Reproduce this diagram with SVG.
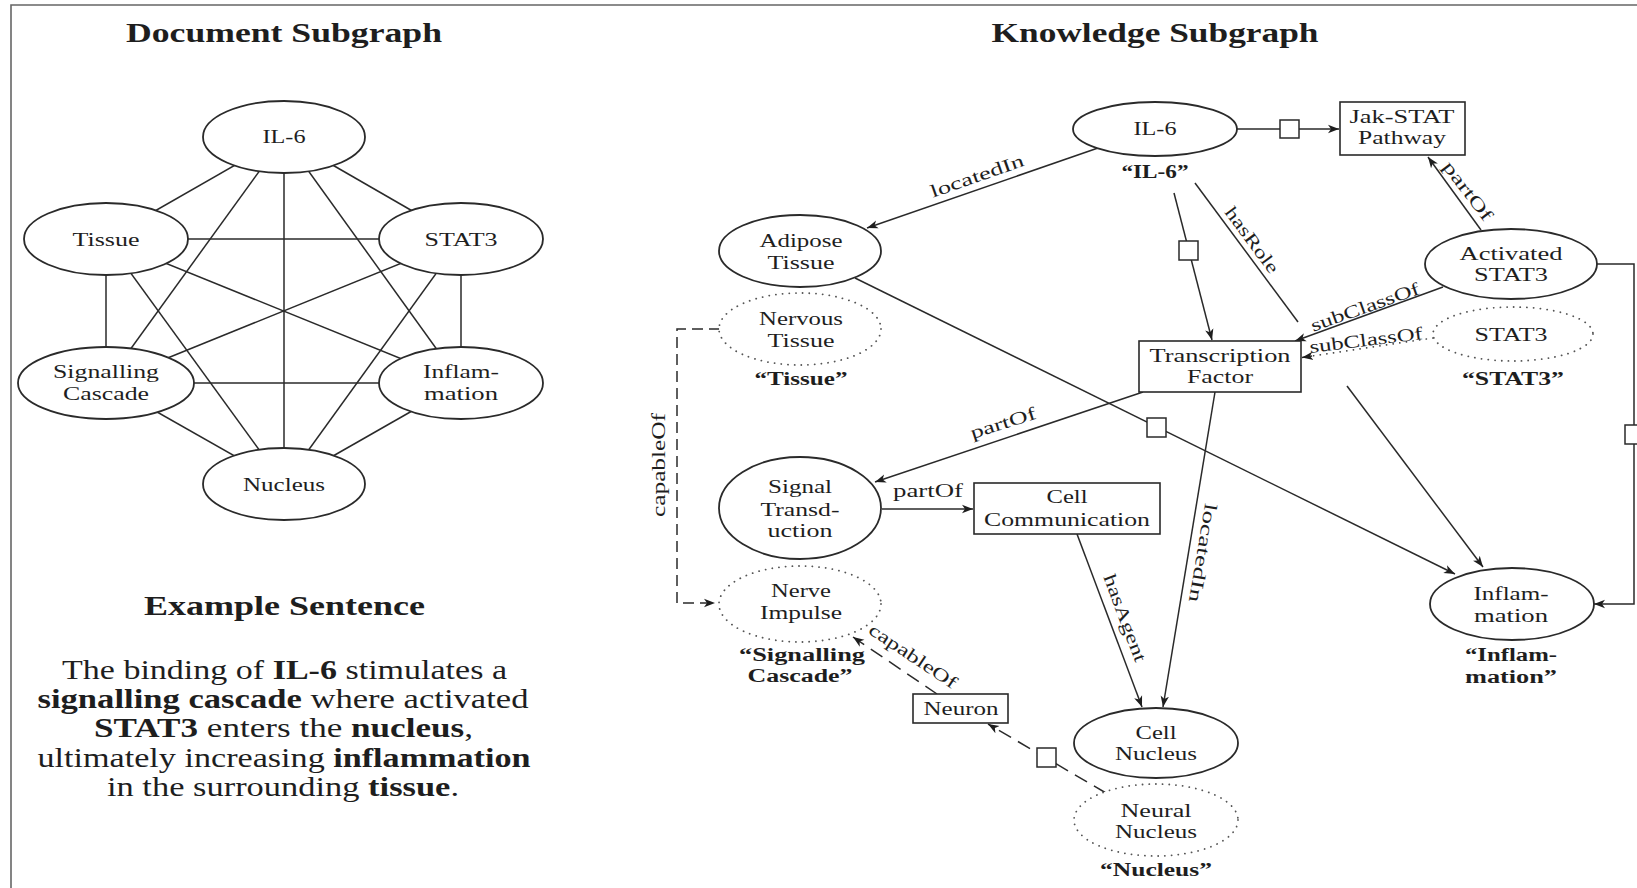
<svg xmlns="http://www.w3.org/2000/svg" width="1637" height="888" viewBox="0 0 1637 888">
<defs>
<style>
text{font-family:"Liberation Serif","DejaVu Serif",serif;fill:#1e1e1e;}
.n{font-size:18.5px;text-anchor:middle;}
.t{font-size:28px;font-weight:bold;text-anchor:middle;}
.s{font-size:27px;text-anchor:middle;}
.bd{font-weight:bold;}
.q{font-size:18.5px;font-weight:bold;text-anchor:middle;}
.l{font-size:18px;text-anchor:middle;dominant-baseline:central;}
.e{stroke:#2a2a2a;stroke-width:1.5;fill:none;}
.dash{stroke-dasharray:11 6;}
.dash2{stroke-dasharray:14 8;}
.dot{stroke:#444;stroke-width:1.7;fill:none;stroke-dasharray:0.1 6.6;stroke-linecap:round;}
.node{fill:#fff;stroke:#2a2a2a;stroke-width:1.8;}
.dnode{fill:#fff;stroke:#555;stroke-width:1.8;stroke-dasharray:0.1 6.6;stroke-linecap:round;}
.rect{fill:#fff;stroke:#2a2a2a;stroke-width:1.6;}
.sq{fill:#fff;stroke:#2a2a2a;stroke-width:1.5;}
.frame{stroke:#666;stroke-width:1.6;fill:none;}
</style>
<marker id="arr" markerWidth="12" markerHeight="10" refX="11" refY="5" orient="auto" markerUnits="userSpaceOnUse">
<path d="M0,0.8 L11,5 L0,9.2 L3,5 z" fill="#1e1e1e"/>
</marker>
</defs>
<rect x="0" y="0" width="1637" height="888" fill="#fff"/>
<path class="frame" d="M11,888 V5 H1637"/>

<!-- Titles -->
<text class="t" x="284" y="42" textLength="316" lengthAdjust="spacingAndGlyphs">Document Subgraph</text>
<text class="t" x="1155" y="42" textLength="327" lengthAdjust="spacingAndGlyphs">Knowledge Subgraph</text>

<!-- Document subgraph connectors -->
<g id="doc-edges" class="e">
<line x1="284" y1="137" x2="106" y2="239"/>
<line x1="284" y1="137" x2="461" y2="239"/>
<line x1="284" y1="137" x2="106" y2="383"/>
<line x1="284" y1="137" x2="461" y2="383"/>
<line x1="284" y1="137" x2="284" y2="484"/>
<line x1="106" y1="239" x2="461" y2="239"/>
<line x1="106" y1="239" x2="106" y2="383"/>
<line x1="106" y1="239" x2="461" y2="383"/>
<line x1="106" y1="239" x2="284" y2="484"/>
<line x1="461" y1="239" x2="106" y2="383"/>
<line x1="461" y1="239" x2="461" y2="383"/>
<line x1="461" y1="239" x2="284" y2="484"/>
<line x1="106" y1="383" x2="461" y2="383"/>
<line x1="106" y1="383" x2="284" y2="484"/>
<line x1="461" y1="383" x2="284" y2="484"/>
</g>

<g id="doc-il6"><ellipse class="node" cx="284" cy="137" rx="81" ry="36"/><text class="n" x="284" y="143" textLength="43" lengthAdjust="spacingAndGlyphs">IL-6</text></g>
<g id="doc-tissue"><ellipse class="node" cx="106" cy="239" rx="82" ry="36"/><text class="n" x="106" y="246" textLength="67" lengthAdjust="spacingAndGlyphs">Tissue</text></g>
<g id="doc-stat3"><ellipse class="node" cx="461" cy="239" rx="82" ry="36"/><text class="n" x="461" y="246" textLength="73" lengthAdjust="spacingAndGlyphs">STAT3</text></g>
<g id="doc-signalling"><ellipse class="node" cx="106" cy="383" rx="88" ry="36"/><text class="n" x="106" y="378" textLength="106" lengthAdjust="spacingAndGlyphs">Signalling</text><text class="n" x="106" y="400" textLength="86" lengthAdjust="spacingAndGlyphs">Cascade</text></g>
<g id="doc-inflammation"><ellipse class="node" cx="461" cy="383" rx="82" ry="36"/><text class="n" x="461" y="378" textLength="76" lengthAdjust="spacingAndGlyphs">Inflam-</text><text class="n" x="461" y="400" textLength="74" lengthAdjust="spacingAndGlyphs">mation</text></g>
<g id="doc-nucleus"><ellipse class="node" cx="284" cy="484" rx="81" ry="36"/><text class="n" x="284" y="491" textLength="82" lengthAdjust="spacingAndGlyphs">Nucleus</text></g>

<!-- Example sentence -->
<g id="example">
<text class="t" x="284.5" y="615" textLength="281" lengthAdjust="spacingAndGlyphs">Example Sentence</text>
<text class="s" x="284.5" y="679" textLength="445" lengthAdjust="spacingAndGlyphs">The binding of <tspan class="bd">IL-6</tspan> stimulates a</text>
<text class="s" x="283" y="708" textLength="491" lengthAdjust="spacingAndGlyphs"><tspan class="bd">signalling cascade</tspan> where activated</text>
<text class="s" x="283.5" y="737" textLength="379" lengthAdjust="spacingAndGlyphs"><tspan class="bd">STAT3</tspan> enters the <tspan class="bd">nucleus</tspan>,</text>
<text class="s" x="284" y="767" textLength="493" lengthAdjust="spacingAndGlyphs">ultimately increasing <tspan class="bd">inflammation</tspan></text>
<text class="s" x="283" y="796" textLength="352" lengthAdjust="spacingAndGlyphs">in the surrounding <tspan class="bd">tissue</tspan>.</text>
</g>

<!-- Knowledge subgraph connectors -->
<g id="kg-edges">
<line class="e" x1="1237" y1="129" x2="1339" y2="129" marker-end="url(#arr)"/>
<rect class="sq" x="1280" y="120" width="19" height="18"/>
<line class="e" x1="1098" y1="148" x2="867" y2="228" marker-end="url(#arr)"/>
<line class="e" x1="1174" y1="193" x2="1212" y2="340" marker-end="url(#arr)"/>
<rect class="sq" x="1179" y="241" width="19" height="19"/>
<line class="e" x1="1195" y1="183" x2="1298" y2="322"/>
<line class="e" x1="1347" y1="386" x2="1483" y2="567" marker-end="url(#arr)"/>
<line class="e" x1="1481" y1="230" x2="1428" y2="157" marker-end="url(#arr)"/>
<line class="e" x1="1443" y1="287" x2="1295" y2="341" marker-end="url(#arr)"/>
<line class="dot" x1="1433" y1="338" x2="1312" y2="356"/>
<line class="e" x1="1312" y1="356" x2="1302" y2="357.5" stroke-width="0" marker-end="url(#arr)"/>
<path class="e" d="M1597,264 H1634 V604 H1594" marker-end="url(#arr)"/>
<rect class="sq" x="1625" y="425" width="19" height="19"/>
<line class="e" x1="855" y1="278" x2="1455" y2="574" marker-end="url(#arr)"/>
<rect class="sq" x="1147" y="418" width="19" height="19"/>
<line class="e" x1="1143" y1="392" x2="875" y2="482" marker-end="url(#arr)"/>
<line class="e" x1="882" y1="509" x2="973" y2="509" marker-end="url(#arr)"/>
<line class="e" x1="1215" y1="392" x2="1163" y2="707" marker-end="url(#arr)"/>
<line class="e" x1="1077" y1="534" x2="1142" y2="707" marker-end="url(#arr)"/>
<path class="e dash" d="M720,329 H677 V603 H715" marker-end="url(#arr)"/>
<line class="e dash2" x1="937" y1="694" x2="853" y2="637" marker-end="url(#arr)"/>
<line class="e dash2" x1="1106" y1="793" x2="988" y2="724" marker-end="url(#arr)"/>
<rect class="sq" x="1037" y="748" width="19" height="19"/>
</g>

<!-- Edge labels -->
<g id="kg-edge-labels">
<text class="l" x="977" y="176" transform="rotate(-19.3 977 176)" textLength="98" lengthAdjust="spacingAndGlyphs">locatedIn</text>
<text class="l" x="1252" y="240" transform="rotate(53.5 1252 240)" textLength="78" lengthAdjust="spacingAndGlyphs">hasRole</text>
<text class="l" x="1468" y="191" transform="rotate(52.6 1468 191)" textLength="70" lengthAdjust="spacingAndGlyphs">partOf</text>
<text class="l" x="1365" y="307" transform="rotate(-19.5 1365 307)" textLength="114" lengthAdjust="spacingAndGlyphs">subClassOf</text>
<text class="l" x="1366" y="340" transform="rotate(-7 1366 340)" textLength="114" lengthAdjust="spacingAndGlyphs">subClassOf</text>
<text class="l" x="1003" y="423" transform="rotate(-17.5 1003 423)" textLength="68" lengthAdjust="spacingAndGlyphs">partOf</text>
<text class="l" x="928" y="491" textLength="70" lengthAdjust="spacingAndGlyphs">partOf</text>
<text class="l" x="659" y="465" transform="rotate(-90 659 465)" textLength="104" lengthAdjust="spacingAndGlyphs">capableOf</text>
<text class="l" x="913" y="656" transform="rotate(33.7 913 656)" textLength="102" lengthAdjust="spacingAndGlyphs">capableOf</text>
<text class="l" x="1125" y="618" transform="rotate(69.4 1125 618)" textLength="92" lengthAdjust="spacingAndGlyphs">hasAgent</text>
<text class="l" x="1203" y="553" transform="rotate(99.4 1203 553)" textLength="100" lengthAdjust="spacingAndGlyphs">locatedIn</text>
</g>

<!-- Knowledge subgraph nodes -->
<g id="kg-il6"><ellipse class="node" cx="1155" cy="129" rx="82" ry="27"/><text class="n" x="1155" y="135" textLength="43" lengthAdjust="spacingAndGlyphs">IL-6</text><text class="q" x="1155" y="178" textLength="67" lengthAdjust="spacingAndGlyphs">“IL-6”</text></g>
<g id="kg-jakstat"><rect class="rect" x="1340" y="102" width="125" height="53"/><text class="n" x="1402" y="123" textLength="105" lengthAdjust="spacingAndGlyphs">Jak-STAT</text><text class="n" x="1402" y="144" textLength="88" lengthAdjust="spacingAndGlyphs">Pathway</text></g>
<g id="kg-adipose"><ellipse class="node" cx="800" cy="251" rx="81" ry="36"/><text class="n" x="801" y="247" textLength="83" lengthAdjust="spacingAndGlyphs">Adipose</text><text class="n" x="801" y="269" textLength="67" lengthAdjust="spacingAndGlyphs">Tissue</text></g>
<g id="kg-nervous"><ellipse class="dnode" cx="800" cy="329" rx="81" ry="36"/><text class="n" x="801" y="325" textLength="84" lengthAdjust="spacingAndGlyphs">Nervous</text><text class="n" x="801" y="347" textLength="67" lengthAdjust="spacingAndGlyphs">Tissue</text><text class="q" x="801" y="385" textLength="93" lengthAdjust="spacingAndGlyphs">“Tissue”</text></g>
<g id="kg-activated"><ellipse class="node" cx="1511" cy="264" rx="86" ry="35"/><text class="n" x="1511" y="260" textLength="103" lengthAdjust="spacingAndGlyphs">Activated</text><text class="n" x="1511" y="281" textLength="74" lengthAdjust="spacingAndGlyphs">STAT3</text></g>
<g id="kg-stat3"><ellipse class="dnode" cx="1513" cy="334" rx="80" ry="27"/><text class="n" x="1511" y="341" textLength="73" lengthAdjust="spacingAndGlyphs">STAT3</text><text class="q" x="1513" y="385" textLength="102" lengthAdjust="spacingAndGlyphs">“STAT3”</text></g>
<g id="kg-tf"><rect class="rect" x="1139" y="341" width="162" height="51"/><text class="n" x="1220" y="362" textLength="141" lengthAdjust="spacingAndGlyphs">Transcription</text><text class="n" x="1220" y="383" textLength="66" lengthAdjust="spacingAndGlyphs">Factor</text></g>
<g id="kg-signal"><ellipse class="node" cx="800" cy="508" rx="81" ry="51"/><text class="n" x="800" y="493" textLength="64" lengthAdjust="spacingAndGlyphs">Signal</text><text class="n" x="800" y="516" textLength="79" lengthAdjust="spacingAndGlyphs">Transd-</text><text class="n" x="800" y="537" textLength="65" lengthAdjust="spacingAndGlyphs">uction</text></g>
<g id="kg-cellcomm"><rect class="rect" x="974" y="483" width="186" height="51"/><text class="n" x="1067" y="503" textLength="41" lengthAdjust="spacingAndGlyphs">Cell</text><text class="n" x="1067" y="526" textLength="166" lengthAdjust="spacingAndGlyphs">Communication</text></g>
<g id="kg-nerve"><ellipse class="dnode" cx="800" cy="604" rx="81" ry="38"/><text class="n" x="801" y="597" textLength="60" lengthAdjust="spacingAndGlyphs">Nerve</text><text class="n" x="801" y="619" textLength="82" lengthAdjust="spacingAndGlyphs">Impulse</text><text class="q" x="802" y="661" textLength="126" lengthAdjust="spacingAndGlyphs">“Signalling</text><text class="q" x="800" y="682" textLength="105" lengthAdjust="spacingAndGlyphs">Cascade”</text></g>
<g id="kg-inflammation"><ellipse class="node" cx="1512" cy="604" rx="82" ry="36"/><text class="n" x="1511" y="600" textLength="75" lengthAdjust="spacingAndGlyphs">Inflam-</text><text class="n" x="1511" y="622" textLength="74" lengthAdjust="spacingAndGlyphs">mation</text><text class="q" x="1511" y="661" textLength="92" lengthAdjust="spacingAndGlyphs">“Inflam-</text><text class="q" x="1511" y="683" textLength="92" lengthAdjust="spacingAndGlyphs">mation”</text></g>
<g id="kg-neuron"><rect class="rect" x="913" y="694" width="95" height="29"/><text class="n" x="961" y="715" textLength="75" lengthAdjust="spacingAndGlyphs">Neuron</text></g>
<g id="kg-cellnucleus"><ellipse class="node" cx="1156" cy="743" rx="82" ry="35"/><text class="n" x="1156" y="739" textLength="41" lengthAdjust="spacingAndGlyphs">Cell</text><text class="n" x="1156" y="760" textLength="82" lengthAdjust="spacingAndGlyphs">Nucleus</text></g>
<g id="kg-neural"><ellipse class="dnode" cx="1156" cy="820" rx="82" ry="36"/><text class="n" x="1156" y="817" textLength="71" lengthAdjust="spacingAndGlyphs">Neural</text><text class="n" x="1156" y="838" textLength="82" lengthAdjust="spacingAndGlyphs">Nucleus</text><text class="q" x="1156" y="876" textLength="112" lengthAdjust="spacingAndGlyphs">“Nucleus”</text></g>
</svg>
